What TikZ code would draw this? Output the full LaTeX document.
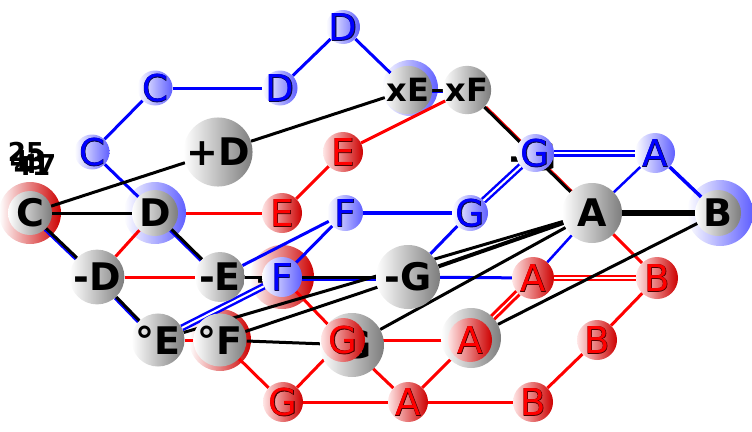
\documentclass[tikz,border=0pt]{standalone}
\usepackage{fontspec}
\setmainfont{DejaVu Sans}
\newfontfamily\olfont[FakeBold=2]{DejaVu Sans}
\usetikzlibrary{calc}
\definecolor{bfill}{RGB}{95,95,255}
\definecolor{rfill}{RGB}{205,0,0}
\definecolor{kfill}{RGB}{125,125,125}
\definecolor{bdark}{RGB}{10,10,70}
\definecolor{rdark}{RGB}{70,0,0}
\newcommand\olb[1]{\makebox[0pt]{\textcolor{bdark}{\olfont #1}}\makebox[0pt]{#1}}
\newcommand\olr[1]{\makebox[0pt]{\textcolor{rdark}{\olfont #1}}\makebox[0pt]{#1}}
\pgfdeclarelayer{halo}
\pgfdeclarelayer{edges}
\pgfsetlayers{halo,edges,main}
\tikzset{
  ball/.style={circle, inner sep=0pt, minimum size=#1},
  bnode/.style={ball=#1, left color=white, right color=bfill, text=blue, font=\fontsize{37}{37}\selectfont},
  rnode/.style={ball=#1, left color=white!90!red, right color=rfill, text=red, font=\fontsize{37}{37}\selectfont},
  knode/.style={ball=#1, left color=white, right color=kfill, text=black, font=\fontsize{38}{38}\selectfont\bfseries},
  ksmall/.style={knode=#1, font=\fontsize{32}{32}\selectfont\bfseries},
  ktext/.style={inner sep=0pt, text=black, font=\fontsize{38}{38}\selectfont\bfseries},
  bhalo/.style={ball=#1, left color=white, right color=bfill},
  rhalo/.style={ball=#1, left color=white, right color=rfill},
  numlab/.style={inner sep=0pt, font=\fontsize{26}{26}\selectfont\bfseries},
  eb/.style={draw=blue, line width=3pt},
  er/.style={draw=red, line width=3pt},
  ek/.style={draw=black, line width=3pt},
  ebd/.style={draw=blue, line width=2.5pt, double=white, double distance=2pt},
  erd/.style={draw=red, line width=2.5pt, double=white, double distance=1.5pt},
  below/.style={transform canvas={xshift=-1.2pt, yshift=-1.2pt}},
}
\begin{document}
\begin{tikzpicture}[x=1pt,y=-1pt]
\useasboundingbox (0,0) rectangle (752,431);

% halos
\begin{pgfonlayer}{halo}
\node[bhalo=56] (hxE) at (410,88) {};
\node[rhalo=62] (hC) at (30,213) {};
\node[bhalo=62] (hD) at (155,213) {};
\node[bhalo=66] (hB) at (720,213) {};
\node[rhalo=48] (hmD) at (97,275) {};
\node[rhalo=64] (hF) at (282,277) {};
\node[rhalo=62] (hoF) at (220,340) {};
\end{pgfonlayer}

% gray / black nodes
\node[ksmall=40] (kxE) at (408,90) {xE};
\node[ksmall=42] (kxF) at (467,90) {xF};
\node[knode=56] (kpD) at (218,152) {+D};
\node[knode=44] (kC) at (30,213) {C};
\node[knode=46] (kD) at (155,213) {D};
\node[knode=60] (kA) at (592,213) {A};
\node[knode=46] (kB) at (718,213) {B};
\node[knode=40] (kmD) at (97,277) {-D};
\node[knode=40] (kmE) at (220,277) {-E};
\node[knode=64] (kmG) at (408,277) {-G};
\node[knode=44] (koE) at (158,340) {°E};
\node[knode=44] (koF) at (220,340) {°F};
\node[knode=64] (kG) at (352,345) {\hspace*{8pt}G};
\node[knode=60] (kAk) at (471,338) {A};
\node[ktext] (kGd) at (533,157) {-G};
\node[ktext] (kFd) at (277,278) {-F};

% blue nodes
\node[bnode=34] (bD1) at (343,27) {\olb{D}};
\node[bnode=35] (bC1) at (155,88) {\olb{C}};
\node[bnode=35] (bD2) at (280,88) {\olb{D}};
\node[bnode=35] (bC2) at (92,152) {\olb{C}};
\node[bnode=38] (bG1) at (535,153) {\olb{G}};
\node[bnode=40] (bA1) at (655,153) {\olb{A}};
\node[bnode=36] (bF1) at (345,213) {\olb{F}};
\node[bnode=36] (bG2) at (470,213) {\olb{G}};
\node[bnode=40] (bF2) at (282,277) {\olb{F}};

% red nodes
\node[rnode=40] (rE1) at (343,152) {\olr{E}};
\node[rnode=40] (rE2) at (282,213) {\olr{E}};
\node[rnode=42] (rA1) at (533,278) {\olr{A}};
\node[rnode=42] (rB1) at (657,278) {\olr{B}};
\node[rnode=44] (rG1) at (343,340) {\olr{G}};
\node[rnode=44] (rA2) at (470,340) {\olr{A}};
\node[rnode=40] (rB2) at (597,340) {\olr{B}};
\node[rnode=40] (rG2) at (283,402) {\olr{G}};
\node[rnode=40] (rA3) at (408,402) {\olr{A}};
\node[rnode=40] (rB3) at (533,402) {\olr{B}};

% number labels
\node[numlab] (n25) at (26,152) {25};
\node[numlab] (n43) at (28,160) {43};
\node[numlab] (n47) at (38,164) {47};
\node[numlab] (n41) at (32,166) {41};

\begin{pgfonlayer}{edges}
% blue
\draw[eb] (bC2) -- (bC1);
\draw[eb] (bC1) -- (bD2);
\draw[eb] (bD2) -- (bD1);
\draw[eb] (bD1) -- (kxE);
\draw[eb] (bC2) -- (kD);
\draw[ebd] (bG1) -- (bA1);
\draw[eb, line width=3.5pt] (bA1) -- (kB);
\draw[eb, line width=2.5pt] (bA1) -- (kA);
\draw[ebd] (bG1) -- (bG2);
\draw[eb, line width=4pt] (bG2) -- (bF1);
\draw[eb] (bF1) -- (kmE);
\draw[eb] (bF1) -- (bF2);
\draw[eb] (bG2) -- (kmG);
\draw[eb] (kmG) -- (rA1);
\draw[ebd] (bF2) -- (koE);
\draw[eb, line width=2.5pt] (kA) -- (rA1);
% black over blue
\draw[eb, below] (kC) -- (kmD);
\draw[ek] (kC) -- (kmD);
\draw[eb, below] (kD) -- (kmE);
\draw[ek] (kD) -- (kmE);
\draw[eb, below] (kmD) -- (koE);
\draw[ek] (kmD) -- (koE);
\draw[eb, transform canvas={yshift=-2.5pt}] (bF2) -- (kmG);
\draw[ek] (bF2) -- (kmG);
\draw[eb, transform canvas={yshift=-1.5pt}] (kxE) -- (kxF);
\draw[ek] (kxE) -- (kxF);
% red
\draw[er] (rE1) -- (kxF);
\draw[er] (rE1) -- (rE2);
\draw[er] (rE2) -- (hD);
\draw[er] (kD) -- (kmD);
\draw[er] (kmD) -- (kmE);
\draw[ek] (kmE) -- (bF2);
\draw[er] (koE) -- (koF);
\draw[er] (koF) -- (rG2);
\draw[er] (rG2) -- (rG1);
\draw[er] (rG2) -- (rA3);
\draw[er] (rA3) -- (rB3);
\draw[er] (rB3) -- (rB2);
\draw[er] (rB2) -- (rB1);
\draw[erd] (rA1) -- (rB1);
\draw[erd, line width=3pt] (rA1) -- (rA2);
\draw[er] (rA2) -- (rA3);
\draw[er] (rG1) -- (rA3);
\draw[er] (rG1) -- (rA2);
\draw[er] (bF2) -- (rG1);
\draw[er, transform canvas={xshift=1.5pt}] (kxF) -- (kA);
\draw[ek] (kxF) -- (kA);
\draw[er] (kA) -- (rB1);
% black
\draw[ek] (kC) -- (kpD);
\draw[ek] (kC) -- (kD);
\draw[ek] (kpD) -- (kxE);
\draw[ek, line width=6pt] (kA) -- (kB);
\draw[ek, line width=4pt] (kA) -- (kmG);
\draw[ek] (kA) -- (kG);
\draw[ek] (kA) -- (koE);
\draw[ek] (kB) -- (kAk);
\draw[ek] (koF) -- (kmG);
\draw[ek] (koF) -- (kG);
\end{pgfonlayer}
\end{tikzpicture}
\end{document}
